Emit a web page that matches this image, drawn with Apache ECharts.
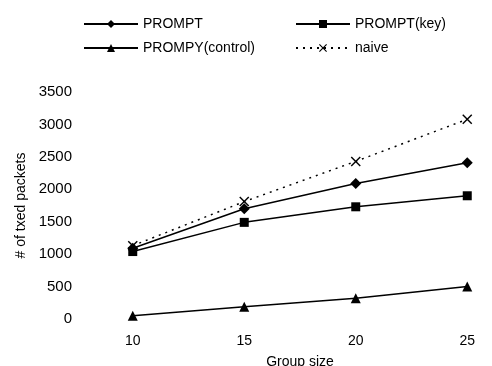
<!DOCTYPE html>
<html>
<head>
<meta charset="utf-8">
<script src="https://cdn.jsdelivr.net/npm/echarts@6/dist/echarts.min.js"></script>
<style>
  html, body { margin: 0; padding: 0; background: #fff; }
  #chart { width: 492px; height: 366px; }
</style>
</head>
<body>
<div id="chart"></div>
<script>
// group sizes on the x axis
const groupSizes = ['10', '15', '20', '25']

// # of txed packets per scheme
const prompt = [1090, 1700, 2090, 2410]
const promptKey = [1040, 1490, 1730, 1900]
const promptControl = [50, 190, 320, 500]
const naive = [1130, 1810, 2430, 3080]

const crossPath = 'path://M0,1L1,0L5,4L9,0L10,1L6,5L10,9L9,10L5,6L1,10L0,9L4,5Z'
const font = 'Liberation Sans, Arial, sans-serif'

const chart = echarts.init(document.getElementById('chart'))

const legendStyle = {
  orient: 'vertical',
  top: 12,
  itemWidth: 54,
  itemHeight: 10,
  itemGap: 10,
  textStyle: { color: '#000', fontSize: 14, fontFamily: font }
}

chart.setOption({
  animation: false,
  backgroundColor: '#fff',
  textStyle: { fontFamily: font },
  legend: [
    Object.assign({ left: 78, data: ['PROMPT', 'PROMPY(control)'] }, legendStyle),
    Object.assign({ left: 290, data: ['PROMPT(key)', 'naive'] }, legendStyle)
  ],
  grid: { left: 77, top: 92, right: -31, bottom: 47, outerBoundsMode: 'none', containLabel: false },
  xAxis: {
    type: 'category',
    data: groupSizes,
    boundaryGap: true,
    name: 'Group size',
    nameLocation: 'middle',
    nameGap: 36,
    nameTextStyle: { color: '#000', fontSize: 14 },
    axisLine: { show: false },
    axisTick: { show: false },
    axisLabel: { color: '#000', fontSize: 14, margin: 15 }
  },
  yAxis: {
    type: 'value',
    min: 0,
    max: 3500,
    interval: 500,
    name: '# of txed packets',
    nameLocation: 'middle',
    nameGap: 47,
    nameTextStyle: { color: '#000', fontSize: 14 },
    axisLine: { show: false },
    axisTick: { show: false },
    splitLine: { show: false },
    axisLabel: { color: '#000', fontSize: 15, margin: 5, formatter: v => String(v) }
  },
  series: [
    {
      name: 'PROMPT',
      type: 'line',
      data: prompt,
      symbol: 'diamond',
      symbolSize: 11,
      itemStyle: { color: '#000' },
      lineStyle: { color: '#000', width: 1.5 }
    },
    {
      name: 'PROMPT(key)',
      type: 'line',
      data: promptKey,
      symbol: 'rect',
      symbolSize: 9,
      itemStyle: { color: '#000' },
      lineStyle: { color: '#000', width: 1.5 }
    },
    {
      name: 'PROMPY(control)',
      type: 'line',
      data: promptControl,
      symbol: 'triangle',
      symbolSize: 10,
      itemStyle: { color: '#000' },
      lineStyle: { color: '#000', width: 1.5 }
    },
    {
      name: 'naive',
      type: 'line',
      data: naive,
      symbol: crossPath,
      symbolSize: 10,
      itemStyle: { color: '#000' },
      lineStyle: { color: '#000', width: 1.5, type: [2, 5] }
    }
  ]
})
</script>
</body>
</html>
